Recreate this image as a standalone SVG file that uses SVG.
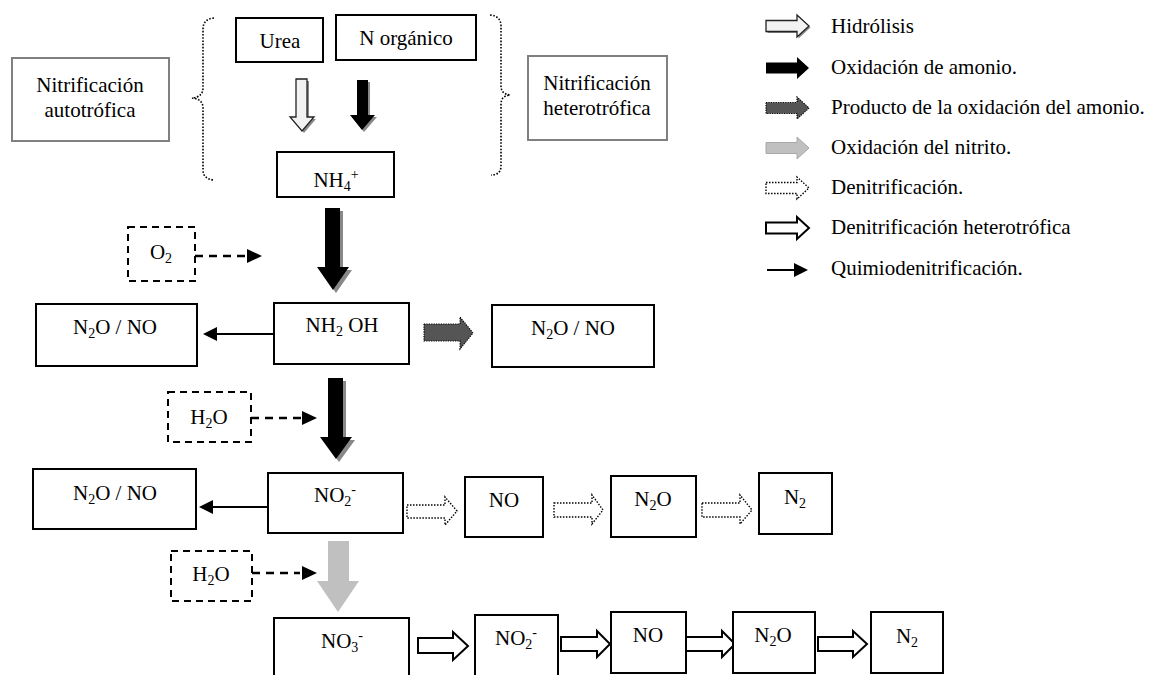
<svg xmlns="http://www.w3.org/2000/svg" xmlns:xlink="http://www.w3.org/1999/xlink" width="1151" height="675" viewBox="0 0 1151 675">
<style>
text{font-family:"Liberation Serif","Times New Roman",serif;font-size:21px;fill:#000}
.c{text-anchor:middle}
.box{fill:#fff;stroke:#000;stroke-width:2}
.gbox{fill:#fff;stroke:#808080;stroke-width:2}
.dbox{fill:#fff;stroke:#000;stroke-width:2;stroke-dasharray:7 5}
.brace{fill:none;stroke:#000;stroke-width:1.6;stroke-dasharray:1.6 1.6}
.dash{stroke:#000;stroke-width:2.5;stroke-dasharray:8 6;fill:none}
.thin{stroke:#000;stroke-width:2;fill:none}
.head{fill:#000}
.a-light{fill:#f2f2f2;stroke:#222;stroke-width:1.3}
.a-black{fill:#000}
.a-shadow{fill:#888}
.a-prod{fill:#555;stroke:#000;stroke-width:1.2;stroke-dasharray:1.2 1.2}
.a-gray{fill:#c0c0c0;stroke:#a8a8a8;stroke-width:1}
.a-dot{fill:#fff;stroke:#000;stroke-width:1.4;stroke-dasharray:1.5 1.5}
.a-hollow{fill:#fff;stroke:#000;stroke-width:2}
</style>
<defs>
<path id="legArrow" d="M0,-5.5 H31 V-11 L43,0 L31,11 V5.5 H0 Z"/>
</defs>

<g id="connectors">
  <!-- top vertical arrows -->
  <path class="a-shadow" d="M298,81 H309 V119 H316 L304,133 L292,119 H298 Z"/>
  <path class="a-light" d="M296,79 H307 V117 H314 L302,131 L290,117 H296 Z"/>
  <path class="a-shadow" d="M359,82 H370 V117 H377 L364,132 L352,117 H359 Z"/>
  <path class="a-black" d="M357,80 H368 V115 H375 L362,130 L350,115 H357 Z"/>
  <!-- NH4+ to NH2OH -->
  <path class="a-shadow" d="M328,211 H343 V270 H352 L336,293 L320,270 H328 Z"/>
  <path class="a-black" d="M325,208 H340 V267 H349 L333,290 L317,267 H325 Z"/>
  <!-- NH2OH to NO2- -->
  <path class="a-shadow" d="M331,381 H346 V440 H355 L339,462 L323,440 H331 Z"/>
  <path class="a-black" d="M328,378 H343 V437 H352 L336,459 L320,437 H328 Z"/>
  <!-- NO2- to NO3- -->
  <path fill="#c0c0c0" d="M328,541 H349 V581 H359 L338,612 L317,581 H328 Z"/>
  <!-- dashed reagent arrows -->
  <line class="dash" x1="195" y1="256" x2="246" y2="256"/>
  <path class="head" d="M247,249 L262,256 L247,263 Z"/>
  <line class="dash" x1="251" y1="418" x2="301" y2="418"/>
  <path class="head" d="M302,411 L317,418 L302,425 Z"/>
  <line class="dash" x1="252" y1="573" x2="300" y2="573"/>
  <path class="head" d="M302,566 L317,573 L302,580 Z"/>
  <!-- chemodenitrification -->
  <line class="thin" x1="274" y1="334" x2="215" y2="334"/>
  <path class="head" d="M217,327 L203,334 L217,341 Z"/>
  <line class="thin" x1="268" y1="507" x2="211" y2="507"/>
  <path class="head" d="M213,500 L199,507 L213,514 Z"/>
  <!-- product of ammonia oxidation -->
  <path class="a-prod" d="M424,324 H460 V317 L473,333 L460,349 V341 H424 Z"/>
  <!-- denitrification (dotted) -->
  <path class="a-dot" d="M407,505 H445 V497 L457,511 L445,525 V518 H407 Z"/>
  <path class="a-dot" d="M554,503 H592 V495 L603,510 L592,524 V517 H554 Z"/>
  <path class="a-dot" d="M702,503 H740 V495 L752,510 L740,524 V517 H702 Z"/>
  <!-- heterotrophic denitrification -->
  <path class="a-hollow" d="M418,638 H453 V632 L468,646 L453,660 V653 H418 Z"/>
  <path class="a-hollow" d="M561,637 H597 V631 L610,644 L597,657 V651 H561 Z"/>
  <path class="a-hollow" d="M686,637 H722 V631 L735,644 L722,657 V651 H686 Z"/>
  <path class="a-hollow" d="M818,637 H853 V631 L867,644 L853,657 V651 H818 Z"/>
</g>

<g id="brace-left"><path class="brace" d="M214,18 Q203,19 203,29 V88 Q203,97 192,98 Q203,99 203,108 V170 Q203,179 214,180"/></g>
<g id="brace-right"><path class="brace" d="M490,15 Q501,16 501,26 V86 Q501,94 510,95 Q501,96 501,104 V166 Q501,175 491,175"/></g>

<g id="n-autotrofica"><rect class="gbox" x="12" y="58" width="157" height="83"/><text class="c" x="90" y="92">Nitrificación</text><text class="c" x="90" y="117">autotrófica</text></g>
<g id="n-heterotrofica"><rect class="gbox" x="528" y="56" width="139" height="84"/><text class="c" x="597" y="90">Nitrificación</text><text class="c" x="597" y="115">heterotrófica</text></g>
<g id="urea"><rect class="box" x="236" y="18" width="87" height="44"/><text class="c" x="280" y="48">Urea</text></g>
<g id="norganico"><rect class="box" x="336" y="15" width="140" height="45"/><text class="c" x="406" y="45">N orgánico</text></g>
<g id="nh4"><rect class="box" x="277" y="152" width="117" height="45"/><text class="c" x="336" y="187">NH<tspan font-size="14" dy="4">4</tspan><tspan font-size="14" dy="-12">+</tspan></text></g>

<g id="o2"><rect class="dbox" x="128" y="227" width="67" height="54"/><text class="c" x="161" y="259">O<tspan font-size="14" dy="4">2</tspan></text></g>
<g id="n2ono-1"><rect class="box" x="36" y="304" width="161" height="62"/><text class="c" x="115" y="334">N<tspan font-size="14" dy="4">2</tspan><tspan dy="-4">O / NO</tspan></text></g>
<g id="nh2oh"><rect class="box" x="274" y="303" width="135" height="61"/><text class="c" x="342" y="332">NH<tspan font-size="14" dy="4">2</tspan><tspan dy="-4"> OH</tspan></text></g>
<g id="n2ono-2"><rect class="box" x="492" y="305" width="162" height="62"/><text class="c" x="573" y="335">N<tspan font-size="14" dy="4">2</tspan><tspan dy="-4">O / NO</tspan></text></g>

<g id="h2o-1"><rect class="dbox" x="168" y="392" width="83" height="50"/><text class="c" x="209" y="424">H<tspan font-size="14" dy="4">2</tspan><tspan dy="-4">O</tspan></text></g>
<g id="n2ono-3"><rect class="box" x="33" y="469" width="163" height="60"/><text class="c" x="115" y="500">N<tspan font-size="14" dy="4">2</tspan><tspan dy="-4">O / NO</tspan></text></g>
<g id="no2"><rect class="box" x="268" y="473" width="135" height="60"/><text class="c" x="335" y="502">NO<tspan font-size="14" dy="4">2</tspan><tspan font-size="14" dy="-12">-</tspan></text></g>
<g id="no-1"><rect class="box" x="465" y="477" width="78" height="60"/><text class="c" x="504" y="507">NO</text></g>
<g id="n2o-1"><rect class="box" x="611" y="476" width="85" height="61"/><text class="c" x="653" y="506">N<tspan font-size="14" dy="4">2</tspan><tspan dy="-4">O</tspan></text></g>
<g id="n2-1"><rect class="box" x="759" y="473" width="73" height="61"/><text class="c" x="795" y="504">N<tspan font-size="14" dy="4">2</tspan></text></g>

<g id="h2o-2"><rect class="dbox" x="171" y="551" width="81" height="50"/><text class="c" x="211" y="581">H<tspan font-size="14" dy="4">2</tspan><tspan dy="-4">O</tspan></text></g>
<g id="no3"><rect class="box" x="274" y="618" width="135" height="64"/><text class="c" x="342" y="648">NO<tspan font-size="14" dy="4">3</tspan><tspan font-size="14" dy="-12">-</tspan></text></g>
<g id="no2-2"><rect class="box" x="475" y="615" width="83" height="67"/><text class="c" x="516" y="645">NO<tspan font-size="14" dy="4">2</tspan><tspan font-size="14" dy="-12">-</tspan></text></g>
<g id="no-2"><rect class="box" x="611" y="612" width="75" height="61"/><text class="c" x="648" y="642">NO</text></g>
<g id="n2o-2"><rect class="box" x="733" y="612" width="82" height="61"/><text class="c" x="773" y="642">N<tspan font-size="14" dy="4">2</tspan><tspan dy="-4">O</tspan></text></g>
<g id="n2-2"><rect class="box" x="871" y="612" width="72" height="61"/><text class="c" x="907" y="643">N<tspan font-size="14" dy="4">2</tspan></text></g>

<g id="legend">
  <use href="#legArrow" x="767.5" y="27.5" fill="#888"/>
  <use href="#legArrow" x="766" y="26" class="a-light"/>
  <text x="831" y="33">Hidrólisis</text>
  <use href="#legArrow" x="766" y="68" class="a-black"/>
  <text x="831" y="74">Oxidación de amonio.</text>
  <use href="#legArrow" x="766" y="108" class="a-prod"/>
  <text x="831" y="114">Producto de la oxidación del amonio.</text>
  <use href="#legArrow" x="766" y="148" class="a-gray"/>
  <text x="831" y="154">Oxidación del nitrito.</text>
  <use href="#legArrow" x="766" y="188" class="a-dot"/>
  <text x="831" y="194">Denitrificación.</text>
  <use href="#legArrow" x="766" y="228" class="a-hollow"/>
  <text x="831" y="234">Denitrificación heterotrófica</text>
  <line class="thin" x1="767" y1="270" x2="795" y2="270"/>
  <path class="head" d="M794,263 L808,270 L794,277 Z"/>
  <text x="831" y="275">Quimiodenitrificación.</text>
</g>
</svg>
